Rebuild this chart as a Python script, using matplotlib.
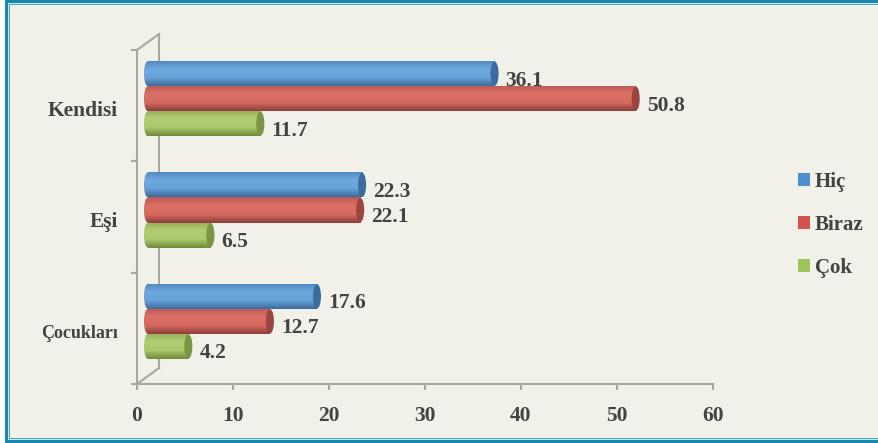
import numpy as np
import matplotlib
matplotlib.use("Agg")
import matplotlib.pyplot as plt
from matplotlib.patches import Rectangle, Ellipse
from matplotlib.transforms import ScaledTranslation
from matplotlib.colors import LinearSegmentedColormap

categories = ["Kendisi", "Eşi", "Çocukları"]
series_names = ["Hiç", "Biraz", "Çok"]
hic = [36.1, 22.3, 17.6]
biraz = [50.8, 22.1, 12.7]
cok = [11.7, 6.5, 4.2]
x_ticks = [0, 10, 20, 30, 40, 50, 60]

W, H, DPI = 879, 443, 100
FS = 15.5
CAT_FS = [15.5, 15.5, 13]
plt.rcParams["font.family"] = ["Liberation Serif", "DejaVu Serif"]
plt.rcParams["font.weight"] = "bold"
TXT = "#454341"
GREY = "#aaa7a0"
BG = "#f1f0e9"

fig = plt.figure(figsize=(W / DPI, H / DPI), dpi=DPI, facecolor="white")


def frame(x0, y0, x1, y1, color):
    fig.patches.append(Rectangle((x0 / W, 1 - y1 / H), (x1 - x0) / W, (y1 - y0) / H,
                                 transform=fig.transFigure, facecolor=color,
                                 edgecolor="none", zorder=-5))


frame(5, 0, 879, 443, "#1687b0")
frame(8, 3, 879, 440, "#cfe6ea")
frame(9, 4, 879, 439, "#4aa8c4")
frame(10, 5, 879, 438, BG)

ax = fig.add_axes([137 / W, 1 - 384 / H, 576 / W, 334 / H])
ax.patch.set_alpha(0)

px = lambda dx, dy: ScaledTranslation(dx / DPI, dy / DPI, fig.dpi_scale_trans)
bar_tr = ax.transData + px(11, 7)
wall_tr = ax.transData + px(22, 16)

styles = [
    (["#4f86bd", "#6fa8de", "#6aa2d8", "#3b6b9c"], "#3a6c9e", "#4f8fd0"),
    (["#bb5a55", "#dc7066", "#d66a60", "#8f3e3b"], "#9b4441", "#d2524e"),
    (["#94b15a", "#b3cd72", "#adc76c", "#718c3c"], "#7a9644", "#9cc458"),
]
BAR_H = 0.225
CAP = 0.42
Y_POS = np.arange(len(categories))


def gradient_fill(patch, colors, z):
    x0, x1, y0, y1 = patch._grad_extent
    cmap = LinearSegmentedColormap.from_list("g", colors)
    im = ax.imshow(np.linspace(0, 1, 64).reshape(-1, 1), cmap=cmap, aspect="auto",
                   extent=(x0, x1, y1, y0), transform=bar_tr, zorder=z,
                   interpolation="bilinear")
    im.set_clip_path(patch)


for j, (values, (cols, capcol, _)) in enumerate(zip([hic, biraz, cok], styles)):
    ys = Y_POS + (j - 1) * BAR_H
    for y, v in zip(ys, values):
        z = 3 + j * 0.1
        left = Ellipse((0, y), 2 * CAP, BAR_H, transform=bar_tr, facecolor="none", edgecolor="none")
        ax.add_patch(left)
        left._grad_extent = (-CAP, 0.01, y - BAR_H / 2, y + BAR_H / 2)
        gradient_fill(left, cols, z)
        rect = ax.barh(y, v, height=BAR_H, transform=bar_tr, facecolor="none", edgecolor="none")[0]
        rect._grad_extent = (0, v, y - BAR_H / 2, y + BAR_H / 2)
        gradient_fill(rect, cols, z)
        ax.add_patch(Ellipse((v, y), 2 * CAP, BAR_H * 0.97, transform=bar_tr,
                             facecolor=capcol, edgecolor="none", zorder=z + 0.01))
        ax.annotate(f"{v}", xy=(v, y), xycoords=bar_tr, xytext=(11, -7),
                    textcoords="offset pixels", va="center", ha="left",
                    fontsize=FS, color=TXT, zorder=z + 0.02,
                    annotation_clip=False)

ax.set_xlim(0, 60)
ax.set_ylim(len(categories) - 0.5, -0.5)
ax.set_xticks(x_ticks)
ax.set_yticks(np.arange(len(categories) + 1) - 0.5, minor=False)
ax.set_yticklabels([])
ax.tick_params(axis="both", color=GREY, width=1.5, length=4)
ax.tick_params(axis="x", labelsize=FS, labelcolor=TXT, pad=11.5)
for t, name, fs in zip(Y_POS, categories, CAT_FS):
    ax.annotate(name, xy=(0, t), xycoords=("axes fraction", "data"), xytext=(-19, -5),
                textcoords="offset pixels", ha="right", va="center",
                fontsize=fs, color=TXT)
for s in ["top", "right"]:
    ax.spines[s].set_visible(False)
for s in ["left", "bottom"]:
    ax.spines[s].set_color(GREY)
    ax.spines[s].set_linewidth(1.5)

# back wall of the pseudo-3D box
ymin, ymax = ax.get_ylim()
ax.plot([0, 0], [ymin, ymax], color=GREY, lw=1.5, transform=wall_tr, zorder=1, clip_on=False)
ax.plot([0, 22 / 9.6], [ymin, ymin - 16 * 3 / 334], color=GREY, lw=1.5, zorder=1, clip_on=False)
ax.plot([0, 22 / 9.6], [ymax, ymax - 16 * 3 / 334], color=GREY, lw=1.5, zorder=1, clip_on=False)

handles = [Rectangle((0, 0), 1, 1, facecolor=s[2], edgecolor="none") for s in styles]
fig.legend(handles, series_names, loc="center left", bbox_to_anchor=(798 / W, 1 - 225 / H),
           frameon=False, fontsize=15, labelcolor=TXT, handlelength=0.56, handleheight=0.56,
           handletextpad=0.25, labelspacing=1.1, borderpad=0, borderaxespad=0)

fig.savefig("out.png", dpi=DPI, facecolor="white")
